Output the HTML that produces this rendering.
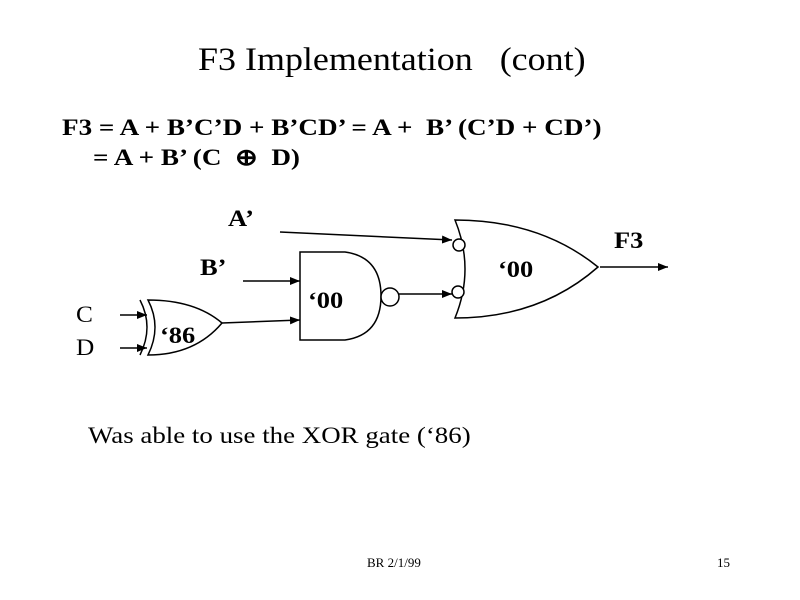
<!DOCTYPE html>
<html><head><style>
body{margin:0;background:#fff;}
.t{position:absolute;font-family:"Liberation Serif",serif;color:#000;white-space:pre;transform-origin:0 0;}
</style></head><body>
<div style="position:relative;width:800px;height:600px;overflow:hidden">
<svg width="800" height="600" style="position:absolute;left:0;top:0">
<defs><marker id="a" markerWidth="10" markerHeight="8" refX="10" refY="4" orient="auto" markerUnits="userSpaceOnUse"><path d="M0,0L10,4L0,8z"/></marker></defs>
<g stroke="#000" stroke-width="1.5" fill="none">
<path d="M455,220 Q475,269 455,318 Q540,318 598,267 Q540,220 455,220 Z" fill="#fff"/>
<circle cx="459" cy="245" r="6" fill="#fff"/>
<circle cx="458" cy="292" r="6" fill="#fff"/>
<line x1="280" y1="232" x2="452" y2="240" marker-end="url(#a)"/>
<line x1="600" y1="267" x2="668" y2="267" marker-end="url(#a)"/>
<path d="M300,252 L345,252 Q381,257 381,296 Q381,335 345,340 L300,340 Z" fill="#fff"/>
<circle cx="390" cy="297" r="9" fill="#fff"/>
<line x1="399" y1="294" x2="452" y2="294" marker-end="url(#a)"/>
<line x1="243" y1="281" x2="300" y2="281" marker-end="url(#a)"/>
<path d="M148,300 Q162,327 148,355 Q195,355 222,323 Q195,300 148,300 Z" fill="#fff"/>
<path d="M140,300 Q154,327 140,355"/>
<line x1="222" y1="323" x2="300" y2="320" marker-end="url(#a)"/>
<line x1="120" y1="315" x2="147" y2="315" marker-end="url(#a)"/>
<line x1="120" y1="348" x2="147" y2="348" marker-end="url(#a)"/>
</g>
</svg>
<div class="t" style="left:198px;top:42px;font-size:33px;transform:scaleX(1.09)">F3 Implementation   (cont)</div>
<div class="t" style="left:62px;top:115px;font-size:23px;font-weight:bold;transform:scaleX(1.18)">F3 = A + B’C’D + B’CD’ = A +  B’ (C’D + CD’)</div>
<div class="t" style="left:93px;top:145px;font-size:23px;font-weight:bold;transform:scaleX(1.18)">= A + B’ (C  ⊕  D)</div>
<div class="t" style="left:228px;top:206px;font-size:23px;font-weight:bold;transform:scaleX(1.15)">A’</div>
<div class="t" style="left:200px;top:255px;font-size:23px;font-weight:bold;transform:scaleX(1.15)">B’</div>
<div class="t" style="left:614px;top:228px;font-size:23px;font-weight:bold;transform:scaleX(1.15)">F3</div>
<div class="t" style="left:498px;top:257px;font-size:23px;font-weight:bold;transform:scaleX(1.15)">‘00</div>
<div class="t" style="left:308px;top:288px;font-size:23px;font-weight:bold;transform:scaleX(1.15)">‘00</div>
<div class="t" style="left:160px;top:323px;font-size:23px;font-weight:bold;transform:scaleX(1.15)">‘86</div>
<div class="t" style="left:76px;top:302px;font-size:23px;transform:scaleX(1.1)">C</div>
<div class="t" style="left:76px;top:335px;font-size:23px;transform:scaleX(1.1)">D</div>
<div class="t" style="left:88px;top:423px;font-size:23px;transform:scaleX(1.17)">Was able to use the XOR gate (‘86)</div>
<div class="t" style="left:367px;top:555px;font-size:13px">BR 2/1/99</div>
<div class="t" style="left:717px;top:555px;font-size:13px">15</div>
</div>
</body></html>
